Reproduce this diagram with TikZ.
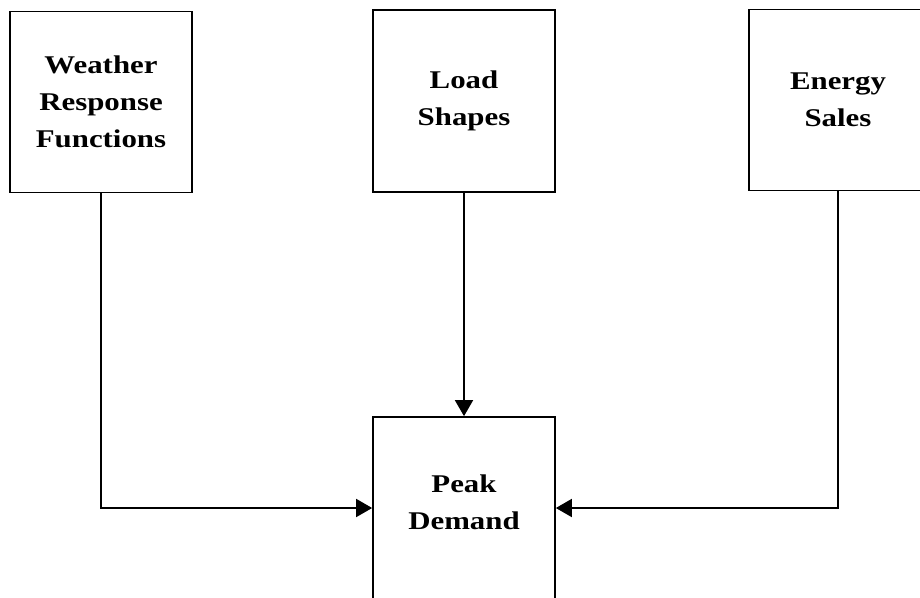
\documentclass[tikz,border=0pt]{standalone}
\usepackage{fontspec}
\setmainfont[FakeStretch=1.21]{Liberation Serif}
\usetikzlibrary{arrows.meta}
\begin{document}
\begin{tikzpicture}[x=1pt,y=-1pt,
  block/.style={draw=black, line width=1.7pt, fill=white, inner sep=0pt,
    align=center, font=\fontsize{25.5}{37}\selectfont\bfseries},
  caption/.style={inner sep=0pt, align=center,
    font=\fontsize{25.5}{37}\selectfont\bfseries},
  link/.style={draw=black, line width=1.7pt,
    -{Triangle[length=16pt,width=18pt]}}]
  \useasboundingbox (0,0) rectangle (920,597);
  \clip (0,0) rectangle (920,597);
  % source boxes along the top
  \node[block, minimum width=182pt, minimum height=181pt] (w) at (101,102)
    {Weather\\Response\\Functions};
  \node[block, minimum width=182pt, minimum height=182pt] (l) at (464,101)
    {Load\\Shapes};
  \node[block, minimum width=178pt, minimum height=181pt] (e) at (838,100)
    {Energy\\Sales};
  % result box, its text sitting a little above centre
  \node[block, minimum width=182pt, minimum height=182pt] (p) at (464,508) {};
  \node[caption] (pt) at (464,502) {Peak\\Demand};
  % connectors
  \draw[link] (w.south) |- (p.west);
  \draw[link] (l.south) -- (p.north);
  \draw[link] (e.south) |- (p.east);
\end{tikzpicture}
\end{document}
